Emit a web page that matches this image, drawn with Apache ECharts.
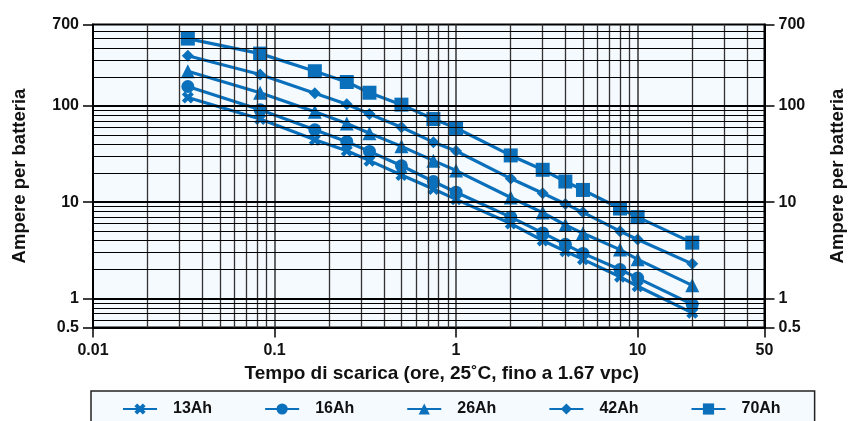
<!DOCTYPE html>
<html>
<head>
<meta charset="utf-8">
<script src="https://cdn.jsdelivr.net/npm/echarts@6/dist/echarts.min.js"></script>
<style>
  html, body { margin: 0; padding: 0; background: #fff; }
  #chart { width: 850px; height: 421px; }
</style>
</head>
<body>
<div id="chart"></div>
<script>
// tempo di scarica (ore)
var hours = [0.0333, 0.0833, 0.1667, 0.25, 0.3333, 0.5, 0.75, 1, 2, 3, 4, 5, 8, 10, 20];
// ampere per batteria
var amp13 = [122, 73, 44.6, 34.2, 27, 19.2, 13.7, 10.7, 6.0, 4.0, 3.1, 2.55, 1.68, 1.34, 0.71];
var amp16 = [159, 91, 56.5, 42.5, 33.7, 23.9, 16.4, 12.7, 7.0, 4.8, 3.65, 2.94, 2.0, 1.63, 0.87];
var amp26 = [229, 137, 87, 65.5, 52, 38, 27, 21.3, 11.2, 7.8, 5.8, 4.75, 3.22, 2.55, 1.37];
var amp42 = [332, 212, 135, 104, 82.5, 60, 42, 34, 17.6, 12.4, 9.6, 7.85, 5.0, 4.1, 2.29];
var amp70 = [500, 349, 229, 177, 137, 103, 73, 59, 30.6, 21.7, 16.4, 13.4, 8.6, 7.0, 3.8];
var names = ["13Ah", "16Ah", "26Ah", "42Ah", "70Ah"];

var xTicks = [0.01, 0.1, 1, 10, 50];
var yTicks = [0.5, 1, 10, 100, 700];

(function () {
  var myChart = echarts.init(document.getElementById("chart"));
  var font = "Liberation Sans, Arial, Helvetica, sans-serif";
  var blue = "#0b70bb";

  var xSymbol = "path://M0,2.5 L2.5,0 L5,2.5 L7.5,0 L10,2.5 L7.5,5 L10,7.5 L7.5,10 L5,7.5 L2.5,10 L0,7.5 L2.5,5 Z";
  var symbols = [xSymbol, "circle", "triangle", "diamond", "rect"];
  var sizes = [12, 13, 14, 12, 14];
  var sets = [amp13, amp16, amp26, amp42, amp70];

  // linee della griglia logaritmica
  var gridLines = [];
  [0.01, 0.1, 1, 10].forEach(function (d) {
    for (var k = 1; k <= 9; k++) {
      var v = +(k * d).toPrecision(2);
      if (v > xTicks[0] && v < xTicks[xTicks.length - 1]) {
        gridLines.push({ xAxis: v, lineStyle: { type: "solid", color: "#333", width: k === 1 ? 1.5 : 1.3 } });
      }
    }
  });
  [0.1, 1, 10, 100].forEach(function (d) {
    for (var k = 1; k <= 9; k++) {
      var v = +(k * d).toPrecision(2);
      if (v > yTicks[0] && v < yTicks[yTicks.length - 1]) {
        gridLines.push({ yAxis: v, lineStyle: { type: "solid", color: "#000", width: k === 1 ? 2 : 1 } });
      }
    }
  });

  function fmt(v) {
    return String(+Number(v).toPrecision(2));
  }

  var labelStyle = { color: "#111", fontFamily: font, fontWeight: "bold", fontSize: 16 };

  function yAxis(pos) {
    return {
      type: "log",
      position: pos,
      min: yTicks[0],
      max: yTicks[yTicks.length - 1],
      name: "Ampere per batteria",
      nameLocation: "middle",
      nameGap: 64,
      nameRotate: 90,
      nameTextStyle: { color: "#111", fontFamily: font, fontWeight: "bold", fontSize: 18.5 },
      axisLine: { show: true, lineStyle: { color: "#000", width: 2 } },
      axisTick: { show: true, length: 10, lineStyle: { color: "#000", width: 1.5 } },
      axisLabel: Object.assign({ margin: 14, formatter: fmt }, labelStyle),
      splitLine: { show: false },
    };
  }

  var series = [
    {
      type: "line",
      data: [],
      z: 1,
      silent: true,
      markLine: {
        silent: true,
        symbol: "none",
        animation: false,
        label: { show: false },
        lineStyle: { type: "solid" },
        data: gridLines,
      },
    },
  ];
  for (var i = 0; i < names.length; i++) {
    series.push({
      name: names[i],
      type: "line",
      z: 3,
      symbol: symbols[i],
      symbolSize: sizes[i],
      lineStyle: { color: blue, width: 3.2 },
      itemStyle: { color: blue },
      data: hours.map(function (h, j) {
        return [h, sets[i][j]];
      }),
    });
  }

  var option = {
    backgroundColor: "#fff",
    animation: false,
    grid: {
      left: 93,
      right: 85.5,
      top: 24.5,
      bottom: 93.5,
      outerBoundsMode: "none",
      show: true,
      backgroundColor: "#f5faff",
      borderColor: "#000",
      borderWidth: 2,
    },
    legend: {
      data: names,
      left: 91,
      top: 391,
      padding: [10, 34, 20, 31],
      itemWidth: 34,
      itemHeight: 14,
      itemGap: 52,
      backgroundColor: "#f5faff",
      borderColor: "#222",
      borderWidth: 1.5,
      textStyle: {
        color: "#111",
        fontFamily: font,
        fontWeight: "bold",
        fontSize: 16,
        padding: [0, 0, 0, 11],
      },
    },
    xAxis: {
      type: "log",
      min: xTicks[0],
      max: xTicks[xTicks.length - 1],
      name: "Tempo di scarica (ore, 25˚C, fino a 1.67 vpc)",
      nameLocation: "middle",
      nameGap: 37,
      nameTextStyle: {
        color: "#111",
        fontFamily: font,
        fontWeight: "bold",
        fontSize: 19,
        padding: [0, 0, 0, 26],
      },
      axisLine: { show: true, lineStyle: { color: "#000", width: 2 } },
      axisTick: { show: true, length: 10, lineStyle: { color: "#000", width: 1.5 } },
      axisLabel: Object.assign({ margin: 15, formatter: fmt }, labelStyle),
      splitLine: { show: false },
    },
    yAxis: [yAxis("left"), yAxis("right")],
    series: series,
  };

  myChart.setOption(option, true);

  window.onresize = function () {
    myChart.resize();
  };
})();
</script>
</body>
</html>
